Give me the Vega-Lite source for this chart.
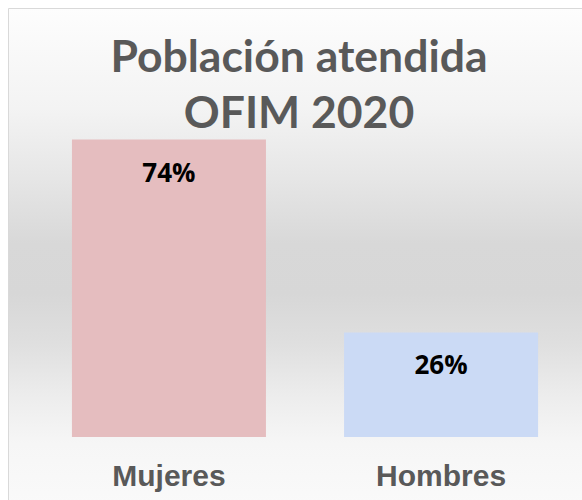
{
  "$schema": "https://vega.github.io/schema/vega-lite/v6.json",
  "autosize": {"type": "none"},
  "padding": {"left": 8, "top": 8, "right": 0, "bottom": 0},
  "width": 594,
  "height": 500,
  "background": "#ffffff",
  "config": {
    "view": {
      "stroke": "#d9d9d9",
      "strokeWidth": 1,
      "fill": {
        "gradient": "linear",
        "x1": 0, "y1": 0, "x2": 0, "y2": 1,
        "stops": [
          {"offset": 0, "color": "#fdfdfd"},
          {"offset": 0.2, "color": "#f3f3f3"},
          {"offset": 0.34, "color": "#e6e6e6"},
          {"offset": 0.47, "color": "#d8d8d8"},
          {"offset": 0.57, "color": "#d7d7d7"},
          {"offset": 0.67, "color": "#dfdfdf"},
          {"offset": 0.77, "color": "#ececec"},
          {"offset": 0.87, "color": "#f6f6f6"},
          {"offset": 1, "color": "#fafafa"}
        ]
      }
    }
  },
  "title": {
    "text": ["Población atendida", "OFIM 2020"],
    "orient": "top",
    "anchor": "middle",
    "frame": "group",
    "baseline": "alphabetic",
    "offset": -164,
    "dx": -6,
    "font": "Lato",
    "fontSize": 44.5,
    "fontWeight": "bold",
    "color": "#595959",
    "lineHeight": 56
  },
  "data": {
    "values": [
      {"grupo": "Mujeres", "pct": 0.74},
      {"grupo": "Hombres", "pct": 0.26}
    ]
  },
  "encoding": {
    "x": {
      "field": "grupo",
      "type": "nominal",
      "sort": ["Mujeres", "Hombres"],
      "scale": {"paddingInner": 0.287, "paddingOuter": 0.235},
      "axis": {
        "title": null,
        "orient": "bottom",
        "domain": false,
        "ticks": false,
        "labelAngle": 0,
        "labelPadding": 0,
        "labelBaseline": "alphabetic",
        "offset": -23,
        "labelFont": "Liberation Sans",
        "labelFontSize": 30,
        "labelFontWeight": "bold",
        "labelColor": "#595959"
      }
    },
    "y": {
      "field": "pct",
      "type": "quantitative",
      "scale": {"domain": [-0.1766, 1.0672], "nice": false, "zero": false},
      "axis": null
    }
  },
  "layer": [
    {
      "mark": {"type": "bar"},
      "encoding": {
        "color": {
          "field": "grupo",
          "type": "nominal",
          "scale": {"domain": ["Mujeres", "Hombres"], "range": ["#e5bdbf", "#cbdaf5"]},
          "legend": null
        }
      }
    },
    {
      "mark": {
        "type": "text",
        "baseline": "alphabetic",
        "dy": 42,
        "font": "Open Sans",
        "fontSize": 26,
        "fontWeight": "bold",
        "color": "#000000"
      },
      "encoding": {
        "text": {"field": "pct", "type": "quantitative", "format": ".0%"}
      }
    }
  ]
}
